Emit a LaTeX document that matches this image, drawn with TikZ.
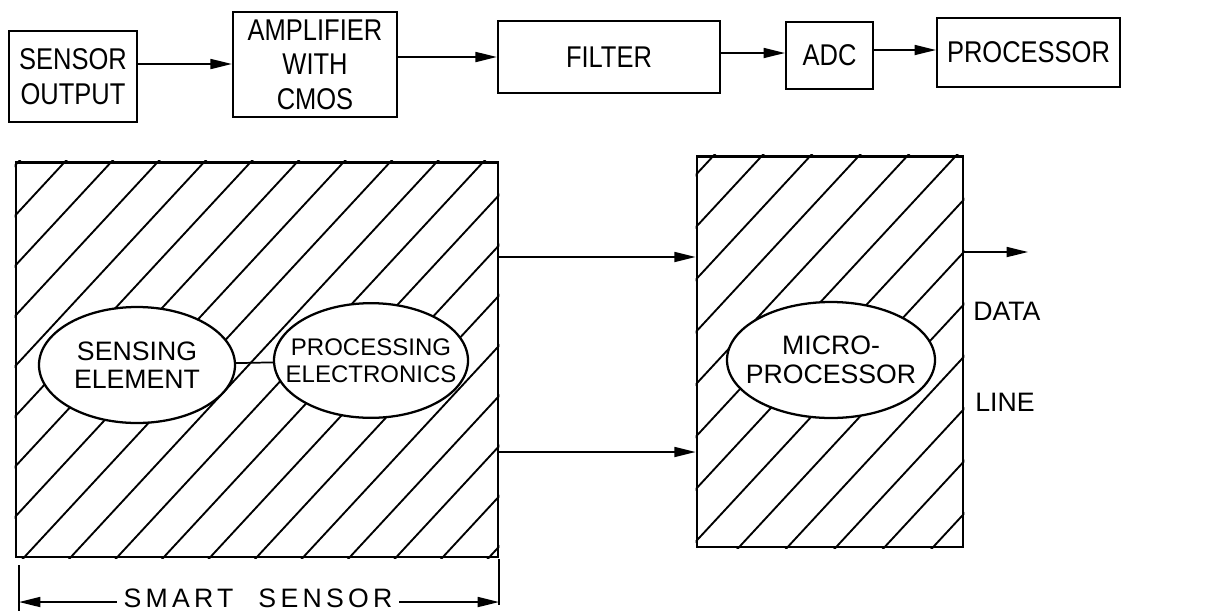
\documentclass[tikz,border=0pt]{standalone}
\usepackage{fontspec}
\setmainfont{Liberation Sans}
\newfontfamily\narrowfont{Liberation Sans}[FakeStretch=0.85]
\newfontfamily\spacedfont{Liberation Sans}[LetterSpace=16]
\usetikzlibrary{arrows.meta,shapes.geometric}
\begin{document}
\begin{tikzpicture}[x=0.75pt,y=-0.75pt,
 box/.style={draw,line width=1.8pt,inner sep=0pt,align=center,font=\narrowfont\fontsize{22.5}{26}\selectfont},
 bigbox/.style={draw,line width=2pt,inner sep=0pt},
 oval/.style={ellipse,draw,line width=1.7pt,fill=white,inner sep=0pt},
 otext/.style={inner sep=0pt,align=center,font=\fontsize{20}{21}\selectfont},
 arr/.style={line width=1.3pt,-{Triangle[length=16pt,width=7.5pt]}},
 hatch/.style={line width=1.4pt},
 lbl/.style={inner sep=0pt,font=\fontsize{20}{24}\selectfont}]
\useasboundingbox (0,0) rectangle (1216,611);
% top chain
\node[box,minimum width=96pt,minimum height=68pt] (sens) at (73,76.5) {SENSOR\\OUTPUT};
\node[box,minimum width=123pt,minimum height=79pt] (amp) at (315,64.5) {AMPLIFIER\\WITH\\CMOS};
\node[box,minimum width=166.5pt,minimum height=54pt] (filt) at (609,57) {FILTER};
\node[box,minimum width=65pt,minimum height=50pt] (adc) at (829.5,55.5) {ADC};
\node[box,minimum width=137pt,minimum height=52pt] (proc) at (1028.5,52.5) {PROCESSOR};
\coordinate (y1) at (0,64);
\coordinate (y2) at (0,57);
\coordinate (y3) at (0,53);
\coordinate (y4) at (0,50);
\draw[arr] (sens.east |- y1) -- (amp.west |- y1);
\draw[arr] (amp.east |- y2) -- (filt.west |- y2);
\draw[arr] (filt.east |- y3) -- (adc.west |- y3);
\draw[arr] (adc.east |- y4) -- (proc.west |- y4);
% bottom boxes
\node[bigbox,minimum width=361.5pt,minimum height=296pt] (ss) at (257,359.5) {};
\node[bigbox,minimum width=199.5pt,minimum height=293pt] (mp) at (830,351.5) {};
\begin{scope}
\clip (ss.south west) rectangle (ss.north east);
\foreach \k in {-9,...,18}
  \draw[hatch] ({65+46.5*\k-417},612) -- ({65+46.5*\k+46},112);
\end{scope}
\begin{scope}
\clip (mp.south west) rectangle (mp.north east);
\foreach \k in {-8,...,13}
  \draw[hatch] ({713+48.5*\k-422},612) -- ({713+48.5*\k+41},112);
\end{scope}
% ellipses
\node[oval,minimum width=147pt,minimum height=87pt] (se) at (137,365) {};
\node[otext] (set) at (se) {SENSING\\ELEMENT};
\node[oval,minimum width=145.5pt,minimum height=86pt] (pe) at (371,360.5) {};
\node[otext,font=\fontsize{18}{20}\selectfont] (pet) at (pe) {PROCESSING\\ELECTRONICS};
\node[oval,minimum width=156pt,minimum height=87pt] (me) at (831,360) {};
\node[otext,font=\fontsize{20}{22}\selectfont] (met) at (me) {MICRO-\\PROCESSOR};
\draw[line width=1.3pt] (se) -- (pe);
% connections
\coordinate (ya) at (0,257);
\coordinate (yb) at (0,452);
\draw[arr] (ss.east |- ya) -- (mp.west |- ya);
\draw[arr] (ss.east |- yb) -- (mp.west |- yb);
\coordinate (out) at (1028,252);
\draw[arr] (mp.east |- out) -- (out);
\node[lbl,anchor=west] (data) at (973,311) {DATA};
\node[lbl,anchor=west] (line) at (975,402) {LINE};
% dimension
\coordinate (lt1) at (19,565);
\coordinate (lt2) at (19,611);
\coordinate (rt1) at (499,559);
\coordinate (rt2) at (499,605);
\draw[line width=1.7pt] (lt1) -- (lt2);
\draw[line width=1.7pt] (rt1) -- (rt2);
\node[inner sep=0pt,font=\spacedfont\fontsize{20}{24}\selectfont] (smart) at (258,598) {SMART\hspace{0.5em}~SENSOR};
\coordinate (la) at (19,602);
\coordinate (ra) at (499,602);
\draw[arr] ([xshift=-5pt]smart.west |- la) -- (la);
\draw[arr] ([xshift=5pt]smart.east |- ra) -- (ra);
\end{tikzpicture}
\end{document}
